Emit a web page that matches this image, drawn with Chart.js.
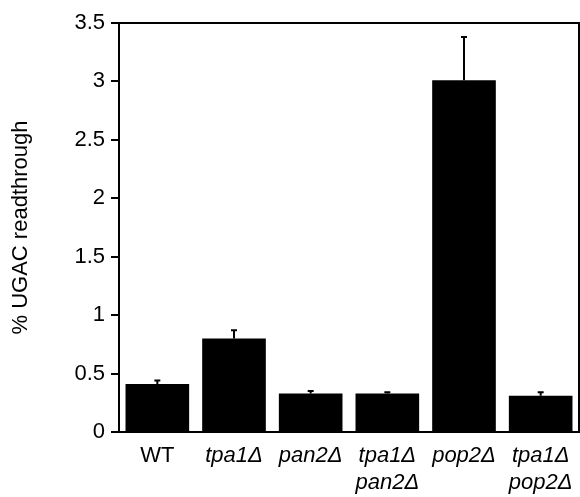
<!DOCTYPE html>
<html>
<head>
<meta charset="utf-8">
<script src="https://cdn.jsdelivr.net/npm/chart.js@4"></script>
<style>
  html, body { margin: 0; padding: 0; background: #fff; }
  #wrap { width: 580px; height: 497px; }
</style>
</head>
<body>
<div id="wrap"><canvas id="readthroughChart"></canvas></div>
<script>
const strains = ['WT', 'tpa1\u0394', 'pan2\u0394', ['tpa1\u0394', 'pan2\u0394'], 'pop2\u0394', ['tpa1\u0394', 'pop2\u0394']];
const readthrough = [0.41, 0.80, 0.33, 0.33, 3.01, 0.31];
const errors = [0.03, 0.07, 0.02, 0.01, 0.37, 0.03];
const FONT = '"Liberation Sans", Arial, Helvetica, sans-serif';

// error bars (upper half only, with small cap) + top/right frame
const extras = {
    id: 'extras',
    afterDatasetsDraw(chart) {
        const ctx = chart.ctx;
        const y = chart.scales.y;
        const meta = chart.getDatasetMeta(0);
        ctx.save();
        ctx.strokeStyle = '#000';
        ctx.lineWidth = 2;
        meta.data.forEach(function (bar, i) {
            const top = y.getPixelForValue(readthrough[i] + errors[i]);
            ctx.beginPath();
            ctx.moveTo(bar.x, bar.y);
            ctx.lineTo(bar.x, top);
            ctx.moveTo(bar.x - 3, top);
            ctx.lineTo(bar.x + 3, top);
            ctx.stroke();
        });
        const a = chart.chartArea;
        ctx.beginPath();
        ctx.moveTo(a.left, a.top);
        ctx.lineTo(a.right, a.top);
        ctx.lineTo(a.right, a.bottom);
        ctx.stroke();
        ctx.restore();
    }
};

new Chart(document.getElementById('readthroughChart').getContext('2d'), {
    type: 'bar',
    data: {
        labels: strains,
        datasets: [{
            data: readthrough,
            backgroundColor: '#000',
            borderWidth: 0,
            barPercentage: 0.83,
            categoryPercentage: 1.0
        }]
    },
    options: {
        responsive: true,
        maintainAspectRatio: false,
        animation: false,
        layout: { padding: { top: 23, right: 1, left: 0, bottom: 0 } },
        plugins: {
            legend: { display: false },
            tooltip: { enabled: false }
        },
        scales: {
            x: {
                grid: { display: false, drawTicks: false },
                border: { color: '#000', width: 2 },
                ticks: {
                    color: '#000',
                    padding: 11,
                    maxRotation: 0,
                    autoSkip: false,
                    font: function (c) {
                        return { family: FONT, size: 22, lineHeight: 1.2, style: c.index === 0 ? 'normal' : 'italic' };
                    }
                },
                afterFit: function (scale) {
                    scale.height = 65;
                    scale.paddingLeft = 0;
                    scale.paddingRight = 0;
                }
            },
            y: {
                min: 0,
                max: 3.5,
                ticks: {
                    stepSize: 0.5,
                    color: '#000',
                    padding: 6,
                    font: { family: FONT, size: 22 },
                    callback: function (v) { return String(v); }
                },
                grid: { drawOnChartArea: false, color: '#000', lineWidth: 2, tickLength: 8 },
                border: { color: '#000', width: 2 },
                title: {
                    display: true,
                    text: '% UGAC readthrough',
                    color: '#000',
                    padding: { top: 8, bottom: 0 },
                    font: { family: FONT, size: 22 }
                },
                afterFit: function (scale) {
                    scale.width = 119;
                    scale.paddingTop = 0;
                    scale.paddingBottom = 0;
                }
            }
        }
    },
    plugins: [extras]
});
</script>
</body>
</html>
